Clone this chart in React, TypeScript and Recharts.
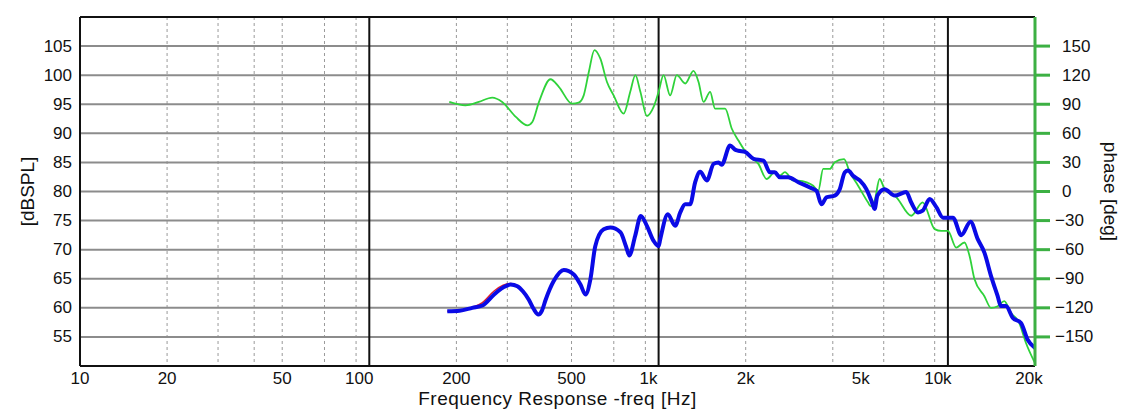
import React from 'react';
import { LineChart, Line, XAxis, YAxis, CartesianGrid } from 'recharts';

// ---- Data ----
const xTicks = [10, 20, 50, 100, 200, 500, 1000, 2000, 5000, 10000, 20000];
const xTickLabels = ['10', '20', '50', '100', '200', '500', '1k', '2k', '5k', '10k', '20k'];
const minorFreqs = [20, 30, 40, 50, 60, 70, 80, 90, 200, 300, 400, 500, 600, 700, 800, 900, 2000, 3000, 4000, 5000, 6000, 7000, 8000, 9000];
const majorFreqs = [100, 1000, 10000];
const splTicks = [55, 60, 65, 70, 75, 80, 85, 90, 95, 100, 105];
const phaseTicks = [-150, -120, -90, -60, -30, 0, 30, 60, 90, 120, 150];

const splFreq = [186, 205, 227, 246, 270, 290, 308, 325, 340, 356, 370, 384, 395, 407, 434, 470, 509, 537, 559, 581, 604, 646, 681, 738, 771, 792, 830, 868, 911, 961, 1000, 1013, 1076, 1141, 1188, 1236, 1285, 1338, 1392, 1468, 1549, 1611, 1652, 1766, 1837, 1888, 1989, 2130, 2303, 2426, 2522, 2625, 2803, 3040, 3334, 3515, 3655, 3802, 4063, 4228, 4401, 4519, 4699, 4960, 5226, 5440, 5580, 5706, 6042, 6546, 7178, 7470, 7880, 8180, 8650, 9120, 9620, 10410, 11120, 11970, 12680, 13370, 14090, 14860, 15250, 15870, 16740, 17890, 18870, 20000];
const splValues = [59.4, 59.5, 60.0, 60.4, 62.3, 63.5, 64.0, 63.7, 62.8, 61.4, 59.8, 58.85, 59.5, 61.4, 64.6, 66.5, 65.75, 64.0, 62.3, 64.9, 70.6, 73.5, 73.8, 73.0, 70.6, 69.0, 72.4, 75.8, 74.1, 71.5, 70.6, 71.8, 76.1, 74.1, 76.4, 77.8, 77.8, 81.6, 83.4, 81.9, 84.75, 85.0, 84.6, 87.9, 87.2, 87.0, 86.8, 85.6, 85.3, 83.3, 83.3, 82.45, 82.45, 81.6, 80.7, 80.1, 77.8, 79.0, 79.3, 80.4, 83.3, 83.6, 82.7, 81.9, 80.4, 78.4, 77.0, 79.3, 80.4, 79.3, 79.9, 78.1, 76.4, 76.7, 78.7, 77.3, 75.5, 75.5, 72.5, 74.8, 71.8, 69.5, 65.5, 62.0, 60.3, 60.3, 58.3, 57.4, 54.5, 53.1];

const redFreq = [186, 205, 227, 246, 270, 290, 308, 325, 340, 356, 370, 384, 395, 407, 434];
const redValues = [59.4, 59.5, 60.1, 60.9, 62.9, 63.9, 64.2, 63.8, 62.8, 61.4, 59.8, 58.85, 59.5, 61.4, 64.6];

const phaseFreq = [189, 215, 239, 266, 288, 321, 352, 366, 386, 423, 452, 502, 529, 551, 574, 600, 629, 663, 699, 757, 798, 831, 865, 911, 961, 1000, 1040, 1096, 1156, 1236, 1320, 1374, 1430, 1507, 1567, 1698, 1791, 1888, 2042, 2213, 2362, 2522, 2625, 2733, 2924, 3040, 3251, 3423, 3563, 3705, 3908, 4063, 4375, 4579, 4893, 5293, 5400, 5580, 5806, 6042, 6640, 7470, 8180, 9000, 9490, 10000, 10680, 11410, 11880, 12360, 13370, 14090, 14860, 15660, 16500, 17640, 18600, 20000];
const phaseValues = [92.4, 88.9, 92.4, 96.9, 92.4, 76.9, 68.2, 71.7, 92.4, 115.8, 108, 90.6, 91.7, 99.2, 123.5, 145.9, 137, 113, 99.2, 80.3, 102.8, 120, 102.8, 77.9, 87.2, 102.8, 120, 99.2, 120, 111.4, 124.5, 113, 92.4, 102.8, 85.5, 85.5, 64.7, 52.6, 37.1, 28.5, 12.9, 19.9, 16.4, 19.9, 11.2, 11.2, 9.5, 6.0, 0.8, 23.3, 23.3, 30.2, 33.4, 19.9, 6.0, -11.2, -15, -9.5, 12.9, 2.6, -6, -25, -11.2, -38.8, -40.6, -40.6, -57.8, -52.6, -66.5, -90.6, -108, -120, -118.3, -113, -125, -135.5, -156, -177];

const splData = splFreq.map((f, i) => ({ f, v: splValues[i] }));
const redData = redFreq.map((f, i) => ({ f, v: redValues[i] }));
const phaseData = phaseFreq.map((f, i) => ({ f, v: phaseValues[i] }));

const FONT = '"Liberation Sans", Arial, sans-serif';
const TICK_SIZE = 17;
const TITLE_SIZE = 19;

const XTick = (props: any) => {
  const { x, y, payload } = props;
  const idx = xTicks.indexOf(payload.value);
  const label = idx >= 0 ? xTickLabels[idx] : String(payload.value);
  let dx = 0;
  if (payload.value === 100 || payload.value === 1000 || payload.value === 10000) dx = -10;
  if (payload.value === 20000) dx = -6;
  return (
    <text x={x + dx} y={y} textAnchor="middle" dominantBaseline="central" fontFamily={FONT} fontSize={TICK_SIZE} fill="#111">
      {label}
    </text>
  );
};

const LeftTick = (props: any) => {
  const { x, y, payload } = props;
  return (
    <text x={x} y={y} textAnchor="end" dominantBaseline="central" fontFamily={FONT} fontSize={TICK_SIZE} fill="#111">
      {payload.value}
    </text>
  );
};

const RightTick = (props: any) => {
  const { x, y, payload } = props;
  const v = payload.value as number;
  const txt = v < 0 ? '\u2212' + Math.abs(v) : String(v);
  return (
    <text x={x + (v < 0 ? 0 : 7)} y={y} textAnchor="start" dominantBaseline="central" fontFamily={FONT} fontSize={TICK_SIZE} fill="#111">
      {txt}
    </text>
  );
};

const LeftTitle = (props: any) => {
  const vb = props.viewBox;
  const cx = vb.x + 19;
  const cy = vb.y + vb.height / 2;
  return (
    <text x={cx} y={cy} transform={`rotate(-90 ${cx} ${cy})`} textAnchor="middle" dominantBaseline="central" fontFamily={FONT} fontSize={TITLE_SIZE} fill="#111">
      [dBSPL]
    </text>
  );
};

const RightTitle = (props: any) => {
  const vb = props.viewBox;
  const cx = vb.x + 75;
  const cy = vb.y + vb.height / 2;
  return (
    <text x={cx} y={cy} transform={`rotate(90 ${cx} ${cy})`} textAnchor="middle" dominantBaseline="central" fontFamily={FONT} fontSize={TITLE_SIZE} fill="#111">
      phase [deg]
    </text>
  );
};

const BottomTitle = (props: any) => {
  const vb = props.viewBox;
  const cx = vb.x + vb.width / 2;
  const cy = vb.y + 32;
  return (
    <text x={cx} y={cy} textAnchor="middle" dominantBaseline="central" fontFamily={FONT} fontSize={TITLE_SIZE} letterSpacing={0.5} fill="#111">
      Frequency Response -freq [Hz]
    </text>
  );
};

export default function App() {
  return (
    <div style={{ width: 1116, height: 404, background: '#fff' }}>
      <LineChart width={1116} height={404} margin={{ top: 9, right: 0, bottom: 0, left: 0 }}>
        <CartesianGrid yAxisId="spl" horizontal={false} vertical verticalValues={minorFreqs} stroke="#9a9a9a" strokeDasharray="3 3" strokeWidth={1} />
        <CartesianGrid yAxisId="spl" vertical={false} horizontal horizontalValues={splTicks} stroke="#8c8c8c" strokeWidth={2} />
        <CartesianGrid yAxisId="spl" vertical verticalValues={majorFreqs} horizontal horizontalValues={[110]} stroke="#111" strokeWidth={2} />
        <XAxis
          dataKey="f"
          type="number"
          scale="log"
          domain={[10, 20000]}
          ticks={xTicks}
          allowDataOverflow
          height={46}
          tickSize={0}
          tickMargin={12}
          tick={<XTick />}
          axisLine={{ stroke: '#111', strokeWidth: 2 }}
          tickLine={false}
          label={{ content: <BottomTitle /> }}
        />
        <YAxis
          yAxisId="spl"
          orientation="left"
          type="number"
          domain={[50, 110]}
          ticks={splTicks}
          allowDataOverflow
          width={72}
          tickSize={0}
          tickMargin={8}
          tick={<LeftTick />}
          tickLine={false}
          axisLine={{ stroke: '#111', strokeWidth: 2 }}
          label={{ content: <LeftTitle /> }}
        />
        <YAxis
          yAxisId="ph"
          orientation="right"
          type="number"
          domain={[-180, 180]}
          ticks={phaseTicks}
          allowDataOverflow
          width={89}
          tickSize={15}
          tickMargin={5}
          tick={<RightTick />}
          tickLine={{ stroke: '#3cb043', strokeWidth: 3 }}
          axisLine={{ stroke: '#3cb043', strokeWidth: 3 }}
          label={{ content: <RightTitle /> }}
        />
        <Line yAxisId="ph" type="monotone" data={phaseData} dataKey="v" stroke="#2fd23a" strokeWidth={1.8} dot={false} isAnimationActive={false} />
        <Line yAxisId="spl" type="monotone" data={redData} dataKey="v" stroke="#e0202a" strokeWidth={1.5} dot={false} isAnimationActive={false} />
        <Line yAxisId="spl" type="monotone" data={splData} dataKey="v" stroke="#0a0ae6" strokeWidth={4} dot={false} isAnimationActive={false} />
      </LineChart>
    </div>
  );
}
